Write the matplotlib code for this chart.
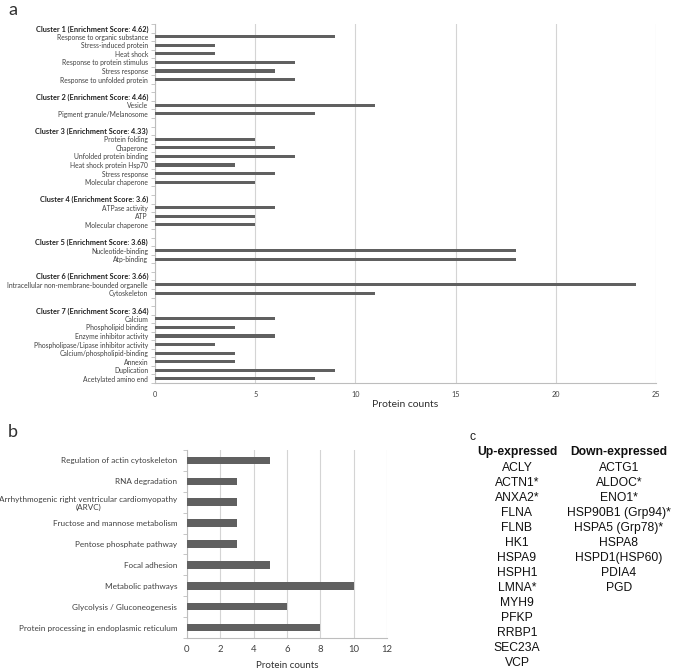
import matplotlib
matplotlib.use("Agg")
import matplotlib.pyplot as plt
import numpy as np

# ---------------- data ----------------
cluster_titles = [
    "Cluster 1 (Enrichment Score: 4.62)",
    "Cluster 2 (Enrichment Score: 4.46)",
    "Cluster 3 (Enrichment Score: 4.33)",
    "Cluster 4 (Enrichment Score: 3.6)",
    "Cluster 5 (Enrichment Score: 3.68)",
    "Cluster 6 (Enrichment Score: 3.66)",
    "Cluster 7 (Enrichment Score: 3.64)",
]
cluster_terms = [
    ["Response to organic substance", "Stress-induced protein", "Heat shock",
     "Response to protein stimulus", "Stress response", "Response to unfolded protein"],
    ["Vesicle", "Pigment granule/Melanosome"],
    ["Protein folding", "Chaperone", "Unfolded protein binding",
     "Heat shock protein Hsp70", "Stress response", "Molecular chaperone"],
    ["ATPase activity", "ATP", "Molecular chaperone"],
    ["Nucleotide-binding", "Atp-binding"],
    ["Intracellular non-membrane-bounded organelle", "Cytoskeleton"],
    ["Calcium", "Phospholipid binding", "Enzyme inhibitor activity",
     "Phospholipase/Lipase inhibitor activity", "Calcium/phospholipid-binding",
     "Annexin", "Duplication", "Acetylated amino end"],
]
cluster_counts = [
    [9, 3, 3, 7, 6, 7],
    [11, 8],
    [5, 6, 7, 4, 6, 5],
    [6, 5, 5],
    [18, 18],
    [24, 11],
    [6, 4, 6, 3, 4, 4, 9, 8],
]
a_xticks = [0, 5, 10, 15, 20, 25]

kegg_terms = [
    "Regulation of actin cytoskeleton",
    "RNA degradation",
    "Arrhythmogenic right ventricular cardiomyopathy\n(ARVC)",
    "Fructose and mannose metabolism",
    "Pentose phosphate pathway",
    "Focal adhesion",
    "Metabolic pathways",
    "Glycolysis / Gluconeogenesis",
    "Protein processing in endoplasmic reticulum",
]
kegg_counts = [5, 3, 3, 3, 3, 5, 10, 6, 8]
b_xticks = [0, 2, 4, 6, 8, 10, 12]

up_expressed = ["ACLY", "ACTN1*", "ANXA2*", "FLNA", "FLNB", "HK1", "HSPA9",
                "HSPH1", "LMNA*", "MYH9", "PFKP", "RRBP1", "SEC23A", "VCP"]
down_expressed = ["ACTG1", "ALDOC*", "ENO1*", "HSP90B1 (Grp94)*", "HSPA5 (Grp78)*",
                  "HSPA8", "HSPD1(HSP60)", "PDIA4", "PGD"]

# ---------------- style ----------------
BAR = "#606060"
GRID = "#d4d4d4"
SPINE = "#bdbdbd"
TXT = "#404040"
FONT = ["Lato", "DejaVu Sans"]
plt.rcParams["font.family"] = FONT

W, H = 685, 671
fig = plt.figure(figsize=(W / 100, H / 100), dpi=100)


def fx(px):
    return px / W


def fy(py):
    return 1 - py / H


# ---------------- panel a ----------------
labels, values, bold = [], [], []
for ci, (title, terms, counts) in enumerate(zip(cluster_titles, cluster_terms, cluster_counts)):
    labels.append(title); values.append(0); bold.append(True)
    for t, c in zip(terms, counts):
        labels.append(t); values.append(c); bold.append(False)
    if ci < len(cluster_titles) - 1:
        labels.append(""); values.append(0); bold.append(False)

n = len(labels)
axa = fig.add_axes([fx(155), fy(383), fx(656) - fx(155), fy(24) - fy(383)])
ypos = np.arange(n)
axa.barh(ypos, values, height=0.36, color=BAR, zorder=3)
axa.set_ylim(n - 0.5, -0.5)
axa.set_xlim(0, 25)
axa.set_xticks(a_xticks)
axa.set_xticklabels([str(v) for v in a_xticks], fontsize=5.2, color=TXT)
axa.xaxis.grid(True, color=GRID, linewidth=0.8, zorder=0)
axa.set_yticks(ypos)
axa.set_yticklabels(labels, fontsize=4.9, color=TXT)
for lab, b in zip(axa.get_yticklabels(), bold):
    if b:
        lab.set_fontweight("bold")
        lab.set_fontsize(5.3)
        lab.set_color("#202020")
axa.set_yticks(np.arange(n + 1) - 0.5, minor=True)
axa.tick_params(axis="y", which="major", length=0, pad=5)
axa.tick_params(axis="y", which="minor", length=3, color=SPINE, width=0.6)
axa.tick_params(axis="x", length=0, pad=6)
for s in ["top", "right"]:
    axa.spines[s].set_visible(False)
axa.spines["left"].set_color(SPINE)
axa.spines["bottom"].set_color(SPINE)
axa.set_xlabel("Protein counts", fontsize=7.5, color="#303030", labelpad=1)
fig.text(fx(8), fy(10), "a", fontsize=13, color="#303030", va="center", ha="left")

# ---------------- panel b ----------------
m = len(kegg_terms)
axb = fig.add_axes([fx(187), fy(638), fx(387) - fx(187), fy(450) - fy(638)])
yb = np.arange(m)
axb.barh(yb, kegg_counts, height=0.36, color=BAR, zorder=3)
axb.set_ylim(m - 0.5, -0.5)
axb.set_xlim(0, 12)
axb.set_xticks(b_xticks)
axb.set_xticklabels([str(v) for v in b_xticks], fontsize=6.8, color=TXT)
axb.xaxis.grid(True, color=GRID, linewidth=0.8, zorder=0)
axb.set_yticks(yb)
axb.set_yticklabels(kegg_terms, fontsize=5.9, color=TXT)
for lab in axb.get_yticklabels():
    lab.set_multialignment("center")
axb.set_yticks(np.arange(m + 1) - 0.5, minor=True)
axb.tick_params(axis="y", which="major", length=0, pad=7)
axb.tick_params(axis="y", which="minor", length=3, color=SPINE, width=0.6)
axb.tick_params(axis="x", length=0, pad=5)
for s in ["top", "right"]:
    axb.spines[s].set_visible(False)
axb.spines["left"].set_color(SPINE)
axb.spines["bottom"].set_color(SPINE)
axb.set_xlabel("Protein counts", fontsize=7, color="#303030", labelpad=5)
fig.text(fx(8), fy(432), "b", fontsize=13, color="#303030", va="center", ha="left")

# ---------------- panel c ----------------
CF = ["Liberation Sans", "DejaVu Sans"]
CS = 8.7
fig.text(fx(473), fy(437), "c", fontsize=CS, color="#202020", va="center", ha="center", family=CF)
fig.text(fx(517), fy(452), "Up-expressed", fontsize=CS, fontweight="bold",
         va="center", ha="center", family=CF, color="#101010")
fig.text(fx(619), fy(452), "Down-expressed", fontsize=CS, fontweight="bold",
         va="center", ha="center", family=CF, color="#101010")
for i, g in enumerate(up_expressed):
    fig.text(fx(517), fy(468 + 15 * i), g, fontsize=CS, va="center", ha="center",
             family=CF, color="#101010")
for i, g in enumerate(down_expressed):
    fig.text(fx(619), fy(468 + 15 * i), g, fontsize=CS, va="center", ha="center",
             family=CF, color="#101010")

fig.savefig("out.png", dpi=100)
